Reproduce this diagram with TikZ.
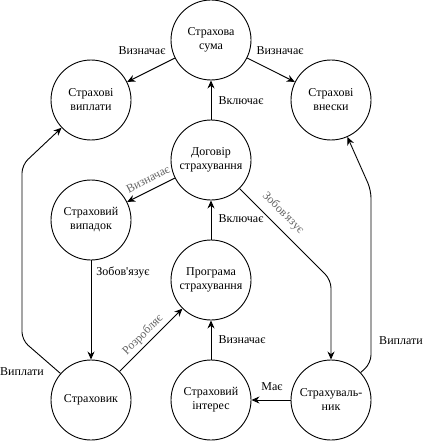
\documentclass[tikz,border=0pt]{standalone}
\usepackage{fontspec}
\setmainfont{Liberation Serif}
\usetikzlibrary{arrows.meta}
\tikzset{>={Stealth[length=8pt,width=7pt]}}
\tikzset{concept/.style={circle,draw,minimum size=80pt,inner sep=0pt,align=center},
         rotlabel/.style={text=black!60}}

\begin{document}
\begin{tikzpicture}[x=1pt,y=-1pt,line width=0.9pt,font=\fontsize{12}{14}\selectfont]
                \useasboundingbox (0,0) rectangle (424,441);

                % Draw the circles for the concepts
                \node[concept] (sum) at (211,40) {Страхова\\сума};
                \node[concept] (payouts) at (91,100) {Страхові\\виплати};
                \node[concept] (premiums) at (331,100) {Страхові\\внески};
                \node[concept] (contract) at (211,160) {Договір\\страхування};
                \node[concept] (event) at (91,220) {Страховий\\випадок};
                \node[concept] (program) at (211,280) {Програма\\страхування};
                \node[concept] (insurer) at (91,400) {Страховик};
                \node[concept] (interest) at (211,400) {Страховий\\інтерес};
                \node[concept] (holder) at (331,400) {Страхуваль-\\ник};

                % Bend points of the long connectors
                \coordinate (bendc) at (331,280);
                \coordinate (bendl1) at (22,340);
                \coordinate (bendl2) at (22,165);
                \coordinate (bendr1) at (371,363);
                \coordinate (bendr2) at (371,190);

                % Draw the arrows from the sum and the contract
                \draw[->] (sum) -- (payouts);
                \draw[->] (sum) -- (premiums);
                \draw[->] (contract) -- (sum);
                \draw[->] (contract) -- (event);
                \draw[->] (program) -- (contract);
                \draw[->,rounded corners=8pt] (contract) -- (bendc) -- (holder);

                % Draw the arrows in the lower part
                \draw[->] (event) -- (insurer);
                \draw[->] (insurer) -- (program);
                \draw[->] (interest) -- (program);
                \draw[->] (holder) -- (interest);
                \draw[->,rounded corners=8pt] (insurer) -- (bendl1) -- (bendl2) -- (payouts);
                \draw[->,rounded corners=8pt] (holder) -- (bendr1) -- (bendr2) -- (premiums);

                % Labels of the arrows
                \node (lsumpay) at (142,51) {Визначає};
                \node (lsumprem) at (280,51) {Визначає};
                \node (lconsum) at (241,101) {Включає};
                \node (lprogcon) at (241,219) {Включає};
                \node[rotlabel,rotate=27] (lconev) at (148,179) {Визначає};
                \node[rotlabel,rotate=-45] (lconhold) at (283,213) {Зобов\textquotesingle язує};
                \node (levins) at (123,272) {Зобов\textquotesingle язує};
                \node[rotlabel,rotate=45] (linsprog) at (143,335) {Розробляє};
                \node (lintprog) at (242,340) {Визначає};
                \node (lholdint) at (272,387) {Має};
                \node (linspay) at (22,372) {Виплати};
                \node (lholdprem) at (401,341) {Виплати};
\end{tikzpicture}
\end{document}
